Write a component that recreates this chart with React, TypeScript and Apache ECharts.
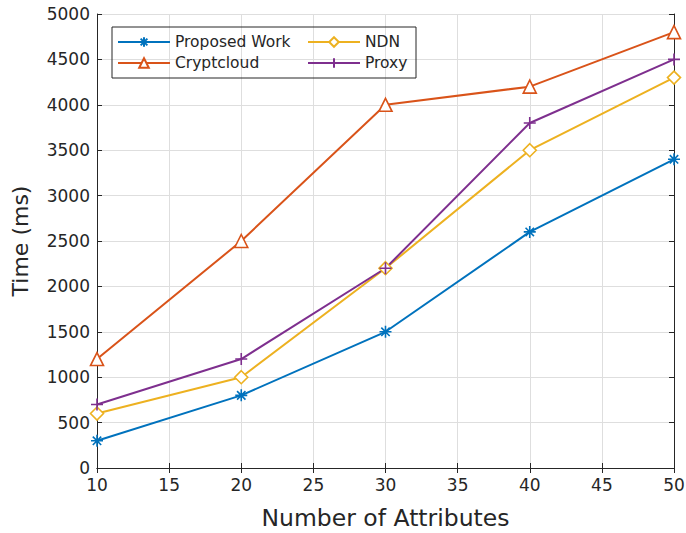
import React, { useEffect, useRef } from "react";
import * as echarts from "echarts";

const attributes = [10, 20, 30, 40, 50];
const proposedWork = [300, 800, 1500, 2600, 3400];
const cryptcloud = [1200, 2500, 4000, 4200, 4800];
const ndn = [600, 1000, 2200, 3500, 4300];
const proxy = [700, 1200, 2200, 3800, 4500];

const asterisk = "path://M0,-10L0,10M-10,0L10,0M-7,-7L7,7M-7,7L7,-7";
const plus = "path://M0,-10L0,10M-10,0L10,0";

const FONT = "DejaVu Sans";
const AX = "#262626";

export default function App() {
  const ref = useRef<HTMLDivElement>(null);
  useEffect(() => {
    const chart = echarts.init(ref.current!, null, { renderer: "svg" });
    const mk = (name: string, data: number[], color: string, symbol: string, size: number) => ({
      name,
      type: "line",
      data: attributes.map((x, i) => [x, data[i]]),
      symbol,
      symbolSize: size,
      lineStyle: { color, width: 2 },
      itemStyle: { color: symbol.startsWith("path") ? color : "#fff", borderColor: color, borderWidth: 1.6 },
      emphasis: { disabled: true },
    });
    const legendBase = {
      orient: "vertical",
      top: 29,
      itemWidth: 52,
      itemHeight: 12,
      itemGap: 5,
      textStyle: { fontFamily: FONT, fontSize: 15.5, color: AX },
    };
    chart.setOption({
      animation: false,
      textStyle: { fontFamily: FONT },
      grid: { left: 97, right: 12, top: 14, bottom: 65, outerBoundsMode: "none", containLabel: false },
      legend: [
        { ...legendBase, data: ["Proposed Work", "Cryptcloud"], left: 112 },
        { ...legendBase, data: ["NDN", "Proxy"], left: 302 },
      ],
      graphic: [
        {
          type: "rect",
          shape: { x: 112, y: 27, width: 304, height: 51 },
          style: { fill: "none", stroke: AX, lineWidth: 1 },
          z: 10,
        },
      ],
      xAxis: [
        {
          type: "value",
          min: 10,
          max: 50,
          interval: 5,
          name: "Number of Attributes",
          nameLocation: "middle",
          nameGap: 38,
          nameTextStyle: { fontSize: 23.5, color: AX, fontFamily: FONT },
          axisLine: { lineStyle: { color: AX } },
          axisTick: { inside: true, length: 5, lineStyle: { color: AX } },
          axisLabel: { fontSize: 17, color: AX, margin: 8, formatter: (v: number) => String(v) },
          splitLine: { show: true, lineStyle: { color: "#dedede" } },
        },
        {
          type: "value",
          position: "top",
          min: 10,
          max: 50,
          interval: 5,
          axisLine: { show: true, lineStyle: { color: AX } },
          axisTick: { show: true, inside: true, length: 5, lineStyle: { color: AX } },
          axisLabel: { show: false },
          splitLine: { show: false },
        },
      ],
      yAxis: [
        {
          type: "value",
          min: 0,
          max: 5000,
          interval: 500,
          name: "Time (ms)",
          nameLocation: "middle",
          nameGap: 66,
          nameTextStyle: { fontSize: 22, color: AX, fontFamily: FONT },
          axisLine: { show: true, lineStyle: { color: AX } },
          axisTick: { show: true, inside: true, length: 5, lineStyle: { color: AX } },
          axisLabel: { fontSize: 17, color: AX, margin: 7, formatter: (v: number) => String(v) },
          splitLine: { show: true, lineStyle: { color: "#dedede" } },
        },
        {
          type: "value",
          position: "right",
          min: 0,
          max: 5000,
          interval: 500,
          axisLine: { show: true, lineStyle: { color: AX } },
          axisTick: { show: true, inside: true, length: 5, lineStyle: { color: AX } },
          axisLabel: { show: false },
          splitLine: { show: false },
        },
      ],
      series: [
        mk("Proposed Work", proposedWork, "#0072BD", asterisk, 12),
        mk("Cryptcloud", cryptcloud, "#D95319", "triangle", 13),
        mk("NDN", ndn, "#EDB120", "diamond", 13),
        mk("Proxy", proxy, "#7E2F8E", plus, 12),
      ],
    });
    return () => chart.dispose();
  }, []);
  return <div ref={ref} style={{ width: 686, height: 533, position: "absolute", left: 0, top: 0 }} />;
}
